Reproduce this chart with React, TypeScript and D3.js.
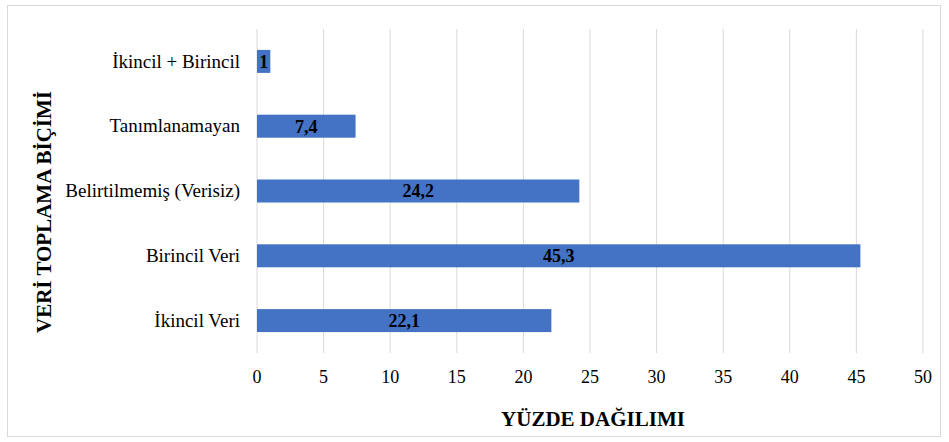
import React from "react";
import * as d3 from "d3";

const categories = [
  "İkincil + Birincil",
  "Tanımlanamayan",
  "Belirtilmemiş (Verisiz)",
  "Birincil Veri",
  "İkincil Veri",
];
const values = [1, 7.4, 24.2, 45.3, 22.1];
const valueLabels = ["1", "7,4", "24,2", "45,3", "22,1"];
const xTicks = [0, 5, 10, 15, 20, 25, 30, 35, 40, 45, 50];

const W = 949;
const H = 442;
const margin = { left: 257, right: 26, top: 29, bottom: 89 };
const font = "Liberation Serif";

export default function App() {
  const x = d3.scaleLinear().domain([0, 50]).range([margin.left, W - margin.right]);
  const y = d3
    .scaleBand<string>()
    .domain(categories)
    .range([margin.top, H - margin.bottom])
    .paddingInner(0.645)
    .paddingOuter(0.3225);

  return (
    <svg
      width={W}
      height={H}
      style={{ position: "absolute", left: 0, top: 0, background: "#fff", fontFamily: font }}
    >
      <rect x={7.5} y={5.5} width={933} height={431} fill="#fff" stroke="#d9d9d9" />

      {/* gridlines */}
      {xTicks.map((t) => (
        <line
          key={t}
          x1={x(t)}
          x2={x(t)}
          y1={margin.top}
          y2={H - margin.bottom}
          stroke="#d9d9d9"
          strokeWidth={1}
        />
      ))}

      {/* bars */}
      {categories.map((c, i) => (
        <g key={c}>
          <rect
            x={x(0)}
            y={y(c)}
            width={x(values[i]) - x(0)}
            height={y.bandwidth()}
            fill="#4472c4"
          />
          <text
            x={(x(0) + x(values[i])) / 2}
            y={(y(c) as number) + y.bandwidth() / 2}
            dy="0.36em"
            textAnchor="middle"
            fontSize={18}
            fontWeight="bold"
            fill="#000"
            style={{ fontFamily: font }}
          >
            {valueLabels[i]}
          </text>
          <text
            x={240}
            y={(y(c) as number) + y.bandwidth() / 2}
            dy="0.33em"
            textAnchor="end"
            fontSize={19}
            fill="#000"
            style={{ fontFamily: font }}
          >
            {c}
          </text>
        </g>
      ))}

      {/* x tick labels */}
      {xTicks.map((t) => (
        <text
          key={t}
          x={x(t)}
          y={383}
          textAnchor="middle"
          fontSize={18}
          fill="#000"
          style={{ fontFamily: font }}
        >
          {t}
        </text>
      ))}

      <text
        x={593}
        y={426}
        textAnchor="middle"
        fontSize={21}
        fontWeight="bold"
        fill="#000"
        style={{ fontFamily: font }}
      >
        YÜZDE DAĞILIMI
      </text>
      <text
        transform={`translate(51, 212) rotate(-90)`}
        textAnchor="middle"
        fontSize={21}
        fontWeight="bold"
        fill="#000"
        style={{ fontFamily: font }}
      >
        VERİ TOPLAMA BİÇİMİ
      </text>
    </svg>
  );
}
